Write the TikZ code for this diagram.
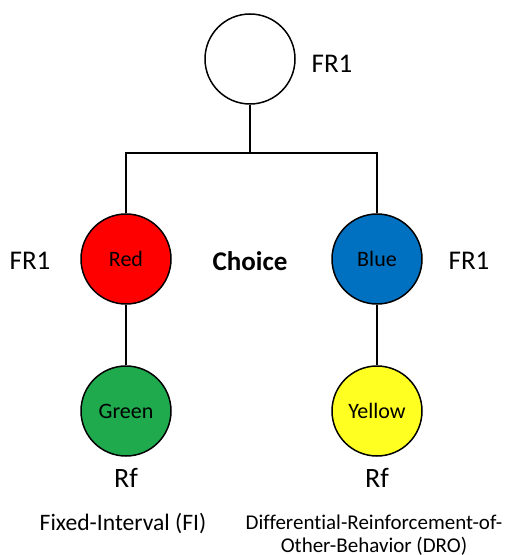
\documentclass[tikz,border=0pt]{standalone}
\usepackage{fontspec}
\setmainfont{Carlito}[Ligatures=NoCommon]
\usepackage{xcolor}
\definecolor{cRed}{HTML}{FF0000}
\definecolor{cBlue}{HTML}{0070C0}
\definecolor{cGreen}{HTML}{1FAA4E}
\definecolor{cYellow}{HTML}{FFFF22}
\usetikzlibrary{positioning}
\tikzset{
  node-key/.style={draw=black,line width=0.75pt,circle,minimum size=45pt,
    inner sep=0pt,align=center,font=\fontsize{11}{13}\selectfont},
  node-red/.style={fill=cRed},
  node-blue/.style={fill=cBlue},
  node-green/.style={fill=cGreen},
  node-yellow/.style={fill=cYellow},
  label-fr/.style={inner sep=0pt,font=\fontsize{13.5}{16}\selectfont},
  label-rf/.style={inner sep=0pt,font=\fontsize{14}{16}\selectfont},
  label-sched/.style={inner sep=0pt,align=center,font=\fontsize{11.8}{11.5}\selectfont},
  link/.style={draw=black,line width=0.75pt},
}
\begin{document}
\begin{tikzpicture}[x=0.5pt,y=-0.5pt]
  \useasboundingbox (0,0) rectangle (504,555);
  % top key and split point
  \node[node-key] (top) at (250,59) {};
  \node[label-fr] (fr-top) at (332,64) {FR1};
  \coordinate (split) at (250,153);
  % choice keys
  \node[node-key,node-red]  (red)  at (126,259) {Red};
  \node[node-key,node-blue] (blue) at (377,259) {Blue};
  \node[label-fr] (fr-red)  at (30,261)  {FR1};
  \node[label-fr] (fr-blue) at (469,261) {FR1};
  \node[label-fr,font=\fontsize{13.5}{16}\selectfont\bfseries] (choice) at (250,261) {Choice};
  % terminal keys
  \node[node-key,node-green]  (green)  at (126,411) {Green};
  \node[node-key,node-yellow] (yellow) at (377,411) {Yellow};
  \node[label-rf] (rf-green)  at (126,478) {Rf};
  \node[label-rf] (rf-yellow) at (377,478) {Rf};
  \node[label-sched] (fi)  at (123,523) {Fixed-Interval (FI)};
  \node[label-sched,font=\fontsize{10.5}{11.5}\selectfont] (dro) at (374,535)
    {Differential-Reinforcement-of-\\Other-Behavior (DRO)};
  % links
  \draw[link] (top) -- (split);
  \draw[link] (red) |- (split) -| (blue);
  \draw[link] (red) -- (green);
  \draw[link] (blue) -- (yellow);
\end{tikzpicture}
\end{document}
